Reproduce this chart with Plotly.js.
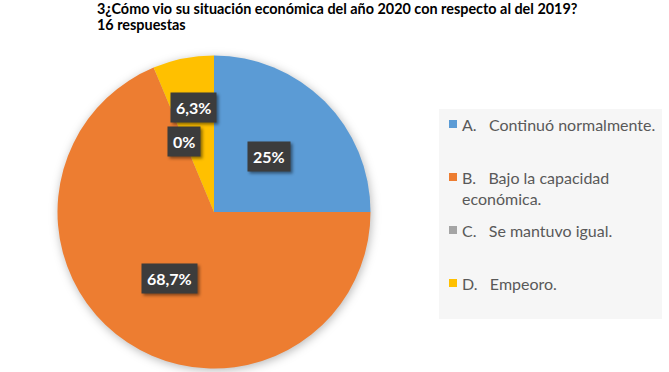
<!DOCTYPE html>
<html>
<head>
<meta charset="utf-8">
<script src="https://cdn.plot.ly/plotly-3.0.1.min.js"></script>
<style>
html,body{margin:0;padding:0;background:#fff;}
#chart{width:669px;height:372px;}
#chart .pielayer{filter:drop-shadow(1px 2px 5px rgba(0,0,0,0.28));}
#chart .annotation.lbl rect.bg{filter:drop-shadow(2px 2px 1.5px rgba(0,0,0,0.45));}
</style>
</head>
<body>
<div id="chart"></div>
<script>
// ---- data ----
const categories = ['A.', 'B.', 'C.', 'D.'];
const categoryNames = ['Continuó normalmente.', 'Bajo la capacidad<br>económica.', 'Se mantuvo igual.', 'Empeoro.'];
const percentValues = [25, 68.7, 0, 6.3];
const percentLabels = ['25%', '68,7%', '0%', '6,3%'];
const sliceColors = ['#5B9BD5', '#ED7D31', '#A5A5A5', '#FFC000'];
const titleLines = ['3¿Cómo vio su situación económica del año 2020 con respecto al del 2019?', '16 respuestas'];

// ---- layout geometry (pixels) ----
const W = 669, H = 372;
const cx = 214, cy = 212, R = 156.5;
const labelRadius = [0.5, 0.51, 0.49, 0.68];
const legendRowY = [124, 177, 230, 283];
const titleRowY = [8.5, 25];
const px = x => x / W;
const py = y => 1 - y / H;

const trace = {
  type: 'pie',
  values: percentValues,
  labels: categories,
  sort: false,
  direction: 'clockwise',
  rotation: 0,
  textinfo: 'none',
  hoverinfo: 'skip',
  showlegend: false,
  marker: {colors: sliceColors, line: {width: 0}},
  domain: {x: [px(cx - R), px(cx + R)], y: [py(cy + R), py(cy - R)]}
};

const shapes = [];
// legend box
shapes.push({type: 'rect', xref: 'paper', yref: 'paper', layer: 'below',
  x0: px(439), x1: px(662), y0: py(319), y1: py(109),
  fillcolor: '#f6f6f6', line: {width: 0}});

const annotations = [];
// title
titleLines.forEach((t, i) => {
  annotations.push({xref: 'paper', yref: 'paper', x: px(95), y: py(titleRowY[i]), xanchor: 'left', yanchor: 'middle',
    align: 'left', showarrow: false, text: t,
    font: {family: 'Lato, Carlito, sans-serif', size: 14.4, color: '#000', weight: 'bold'}});
});

// data labels, positioned from cumulative slice angles
const total = percentValues.reduce((a, b) => a + b, 0);
let cum = 0;
const labelIdx = [];
percentValues.forEach((v, i) => {
  const mid = (cum + v / 2) / total * 2 * Math.PI;
  cum += v;
  const r = R * labelRadius[i];
  const lx = cx + r * Math.sin(mid), ly = cy - r * Math.cos(mid);
  labelIdx.push(annotations.length);
  annotations.push({xref: 'paper', yref: 'paper', x: px(lx), y: py(ly), showarrow: false,
    xanchor: 'center', yanchor: 'middle',
    text: percentLabels[i], bgcolor: '#3c3c3c', borderpad: 5,
    font: {family: 'Lato, sans-serif', size: 16, color: '#ffffff', weight: 'bold'}});
});

// custom legend
const sp = '\u00a0\u00a0\u00a0';
categories.forEach((c, i) => {
  const y = legendRowY[i];
  shapes.push({type: 'rect', xref: 'paper', yref: 'paper',
    x0: px(449), x1: px(457), y0: py(y + 4), y1: py(y - 4),
    fillcolor: sliceColors[i], line: {width: 0}});
  annotations.push({xref: 'paper', yref: 'paper', x: px(460), y: py(y - 11), xanchor: 'left', yanchor: 'top',
    align: 'left', showarrow: false, text: c + sp + categoryNames[i],
    font: {family: 'Lato, Carlito, sans-serif', size: 16, color: '#595959'}});
});

const layout = {
  width: W, height: H,
  margin: {l: 0, r: 0, t: 0, b: 0},
  paper_bgcolor: '#ffffff',
  showlegend: false,
  shapes: shapes,
  annotations: annotations
};

Plotly.newPlot('chart', [trace], layout, {displayModeBar: false, staticPlot: true}).then(gd => {
  const anns = gd.querySelectorAll('.annotation');
  labelIdx.forEach(k => { if (anns[k]) anns[k].classList.add('lbl'); });
});
</script>
</body>
</html>
